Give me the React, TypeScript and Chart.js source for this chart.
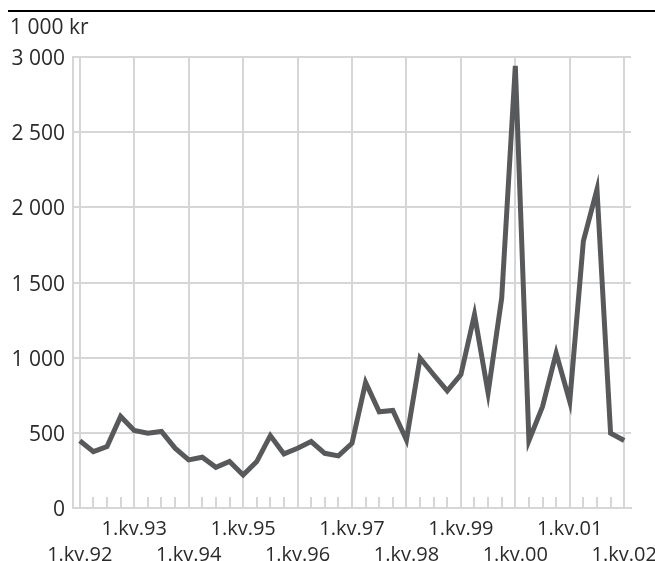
import React, { useEffect, useRef } from 'react';
import { Chart, registerables } from 'chart.js';

Chart.register(...registerables);

const unitLabel = '1 000 kr';

const quarterLabels = [
  '1.kv.92', '2.kv.92', '3.kv.92', '4.kv.92',
  '1.kv.93', '2.kv.93', '3.kv.93', '4.kv.93',
  '1.kv.94', '2.kv.94', '3.kv.94', '4.kv.94',
  '1.kv.95', '2.kv.95', '3.kv.95', '4.kv.95',
  '1.kv.96', '2.kv.96', '3.kv.96', '4.kv.96',
  '1.kv.97', '2.kv.97', '3.kv.97', '4.kv.97',
  '1.kv.98', '2.kv.98', '3.kv.98', '4.kv.98',
  '1.kv.99', '2.kv.99', '3.kv.99', '4.kv.99',
  '1.kv.00', '2.kv.00', '3.kv.00', '4.kv.00',
  '1.kv.01', '2.kv.01', '3.kv.01', '4.kv.01',
  '1.kv.02',
];

const values = [
  447, 375, 409, 609,
  516, 498, 509, 398,
  320, 338, 271, 309,
  220, 309, 482, 360,
  398, 442, 364, 347,
  431, 835, 640, 649,
  453, 998, 887, 780,
  887, 1287, 766, 1398,
  2942, 449, 675, 1031,
  709, 1776, 2120, 498,
  449,
];

const yMin = 0;
const yMax = 3000;
const yStep = 500;

const FONT = "'Open Sans', 'Noto Sans', sans-serif";
const GRID = '#d6d6d6';
const TEXT = '#2a2a2a';

const topRule = {
  id: 'topRule',
  beforeDraw(chart: any) {
    const ctx = chart.ctx;
    ctx.save();
    ctx.fillStyle = '#000000';
    ctx.fillRect(8, 10, chart.width - 8, 2);
    ctx.restore();
  },
};

const quarterTicks = {
  id: 'quarterTicks',
  beforeDatasetsDraw(chart: any) {
    const x = chart.scales.x;
    const bottom = chart.chartArea.bottom;
    const ctx = chart.ctx;
    ctx.save();
    ctx.strokeStyle = GRID;
    ctx.lineWidth = 2;
    for (let i = 0; i < x.ticks.length; i++) {
      if (i % 4 === 0) continue;
      const px = Math.round(x.getPixelForTick(i));
      ctx.beginPath();
      ctx.moveTo(px, bottom);
      ctx.lineTo(px, bottom - 11);
      ctx.stroke();
    }
    ctx.restore();
  },
};

export default function App() {
  const ref = useRef<HTMLCanvasElement | null>(null);

  useEffect(() => {
    document.documentElement.style.overflow = 'hidden';
    const canvas = ref.current;
    if (!canvas) return;
    const chart = new Chart(canvas, {
      type: 'line',
      data: {
        labels: quarterLabels,
        datasets: [
          {
            data: values,
            borderColor: '#58595b',
            borderWidth: 5,
            pointRadius: 0,
            tension: 0,
            fill: false,
          },
        ],
      },
      options: {
        responsive: false,
        animation: false,
        layout: { padding: { left: 10, right: 24, top: 0, bottom: 0 } },
        plugins: {
          legend: { display: false },
          tooltip: { enabled: false },
          title: {
            display: true,
            text: unitLabel,
            align: 'start',
            color: TEXT,
            font: { family: FONT, size: 21, weight: 'normal', lineHeight: 1.2 },
            padding: { top: 15, bottom: 17 },
          },
        },
        scales: {
          x: {
            type: 'category',
            offset: true,
            afterFit: (s: any) => {
              s.paddingRight = 0;
              s.paddingLeft = 0;
              s.height = 53;
            },
            grid: {
              color: (c: any) => (c.index % 4 === 0 ? GRID : 'rgba(0,0,0,0)'),
              lineWidth: 2,
              drawTicks: false,
              offset: false,
            },
            border: { color: GRID, width: 2 },
            ticks: {
              autoSkip: false,
              maxRotation: 0,
              minRotation: 0,
              padding: 8,
              color: TEXT,
              font: { family: FONT, size: 20, lineHeight: 1.3 },
              callback: (_v: any, index: number) => {
                if (index % 4 !== 0) return '';
                const label = quarterLabels[index];
                return Math.floor(index / 4) % 2 === 0 ? ['', label] : label;
              },
            },
          },
          y: {
            min: yMin,
            max: yMax,
            afterFit: (s: any) => {
              s.width = 63;
            },
            grid: { color: GRID, lineWidth: 2, drawTicks: false },
            border: { color: GRID, width: 2 },
            ticks: {
              stepSize: yStep,
              padding: 8,
              labelOffset: 2,
              color: TEXT,
              font: { family: FONT, size: 21, lineHeight: 1.2 },
              callback: (v: any) => String(v).replace(/\B(?=(\d{3})+(?!\d))/g, ' '),
            },
          },
        },
      },
      plugins: [topRule, quarterTicks],
    });
    return () => chart.destroy();
  }, []);

  return (
    <div style={{ position: 'absolute', left: 0, top: 0, width: 655, height: 561 }}>
      <canvas ref={ref} width={655} height={561} style={{ display: 'block' }} />
    </div>
  );
}
